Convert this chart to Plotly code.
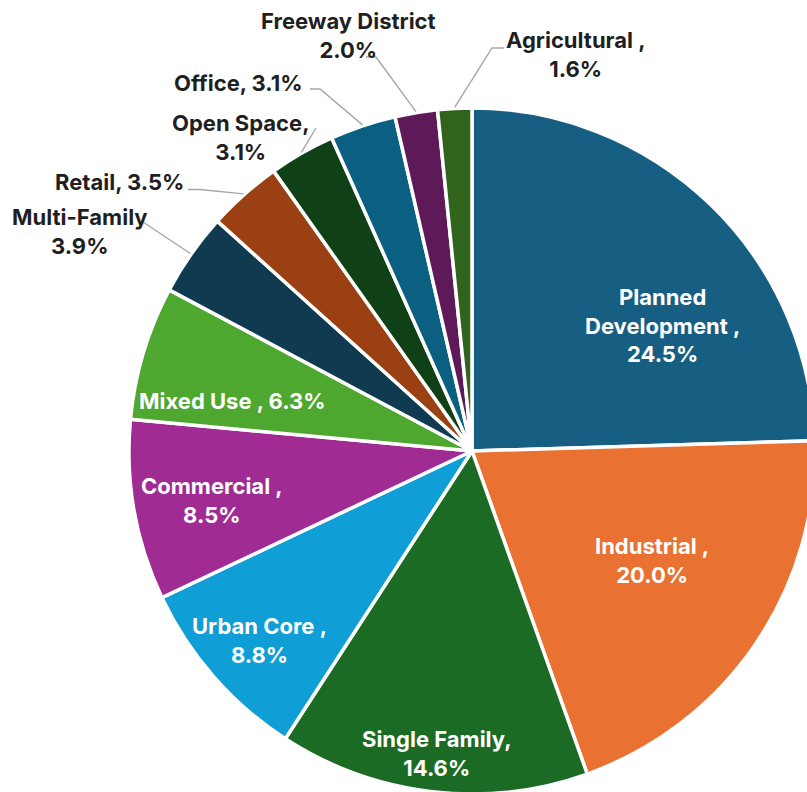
import math
import plotly.graph_objects as go

# Zoning share by category (percent of total area), clockwise from 12 o'clock
categories = [
    "Planned Development", "Industrial", "Single Family", "Urban Core",
    "Commercial", "Mixed Use", "Multi-Family", "Retail", "Open Space",
    "Office", "Freeway District", "Agricultural",
]
shares = [24.5, 20.0, 14.6, 8.8, 8.5, 6.3, 3.9, 3.5, 3.1, 3.1, 2.0, 1.6]

# Label wording per slice ({n} = name, {p} = percentage)
label_formats = [
    "Planned<br>Development ,<br>{p}", "{n} ,<br>{p}", "{n},<br>{p}",
    "{n} ,<br>{p}", "{n} ,<br>{p}", "{n} , {p}", "{n}<br>{p}",
    "{n}, {p}", "{n},<br>{p}", "{n}, {p}", "{n}<br>{p}", "{n} ,<br>{p}",
]

colors = [
    "#175F82", "#E97132", "#1B6B24", "#0F9ED5", "#A02B93", "#4EA72E",
    "#0F3A4F", "#9A4012", "#0F4016", "#0B5F80", "#5E1A58", "#30641C",
]

# Canvas and pie geometry (pixels, origin top-left)
W, H = 824, 796
CX, CY, R = 472, 451, 343

# Label placement: text centre, and for outside labels the leader-line path
inside_pos = {
    "Planned Development": (662, 325),
    "Industrial": (652, 560),
    "Single Family": (437, 753),
    "Urban Core": (259, 640),
    "Commercial": (212, 500),
    "Mixed Use": (232, 401),
}
outside_pos = {
    # name: (text centre, leader-line points from the label towards the slice)
    "Multi-Family": ((80, 232), [(143, 222)]),
    "Retail": ((119, 182), [(188, 189.5), (200, 189.5)]),
    "Open Space": ((241, 137), [(316, 128)]),
    "Office": ((239, 83), [(310, 89), (320, 89)]),
    "Freeway District": ((348, 35), [(366, 57), (376, 57)]),
    "Agricultural": ((576, 54), [(504, 48), (492, 48)]),
}

FONT = "Inter"
FONT_SIZE = 22
TEXT_DARK = "#1F1F1F"
LEADER = "#A6A6A6"


def px(x):
    return x / W


def py(y):
    return 1 - y / H


total = sum(shares)
fig = go.Figure(
    go.Pie(
        labels=categories,
        values=shares,
        sort=False,
        direction="clockwise",
        rotation=0,
        marker=dict(colors=colors, line=dict(color="white", width=3.5)),
        textinfo="none",
        hoverinfo="label+percent",
        showlegend=False,
        domain=dict(
            x=[px(CX - R), px(CX + R)],
            y=[py(CY + R), py(CY - R)],
        ),
    )
)

annotations = []
shapes = []
cum = 0.0
for name, val, fmt in zip(categories, shares, label_formats):
    mid = (cum + val / 2) / total * 2 * math.pi
    cum += val
    text = fmt.format(n=name, p=f"{val:.1f}%")
    if name in inside_pos:
        x, y = inside_pos[name]
        color = "white"
    else:
        (x, y), path = outside_pos[name]
        color = TEXT_DARK
        # leader line ends just outside the slice edge at its mid-angle
        ex = CX + (R + 1) * math.sin(mid)
        ey = CY - (R + 1) * math.cos(mid)
        pts = path + [(ex, ey)]
        d = "M " + " L ".join(f"{px(a):.5f},{py(b):.5f}" for a, b in pts)
        shapes.append(
            dict(
                type="path", path=d, xref="paper", yref="paper",
                line=dict(color=LEADER, width=1.4),
            )
        )
    annotations.append(
        dict(
            x=px(x), y=py(y), xref="paper", yref="paper",
            xanchor="center", yanchor="middle", align="center",
            text=text, showarrow=False,
            font=dict(family=FONT, size=FONT_SIZE, color=color, weight="bold"),
        )
    )

fig.update_layout(
    width=W,
    height=H,
    margin=dict(l=0, r=0, t=0, b=0),
    paper_bgcolor="white",
    plot_bgcolor="white",
    annotations=annotations,
    shapes=shapes,
)

fig.write_html(
    "out.html",
    post_script=(
        "document.documentElement.style.overflow='hidden';"
        "document.body.style.overflow='hidden';"
        "document.body.style.margin='0';"
    ),
)
